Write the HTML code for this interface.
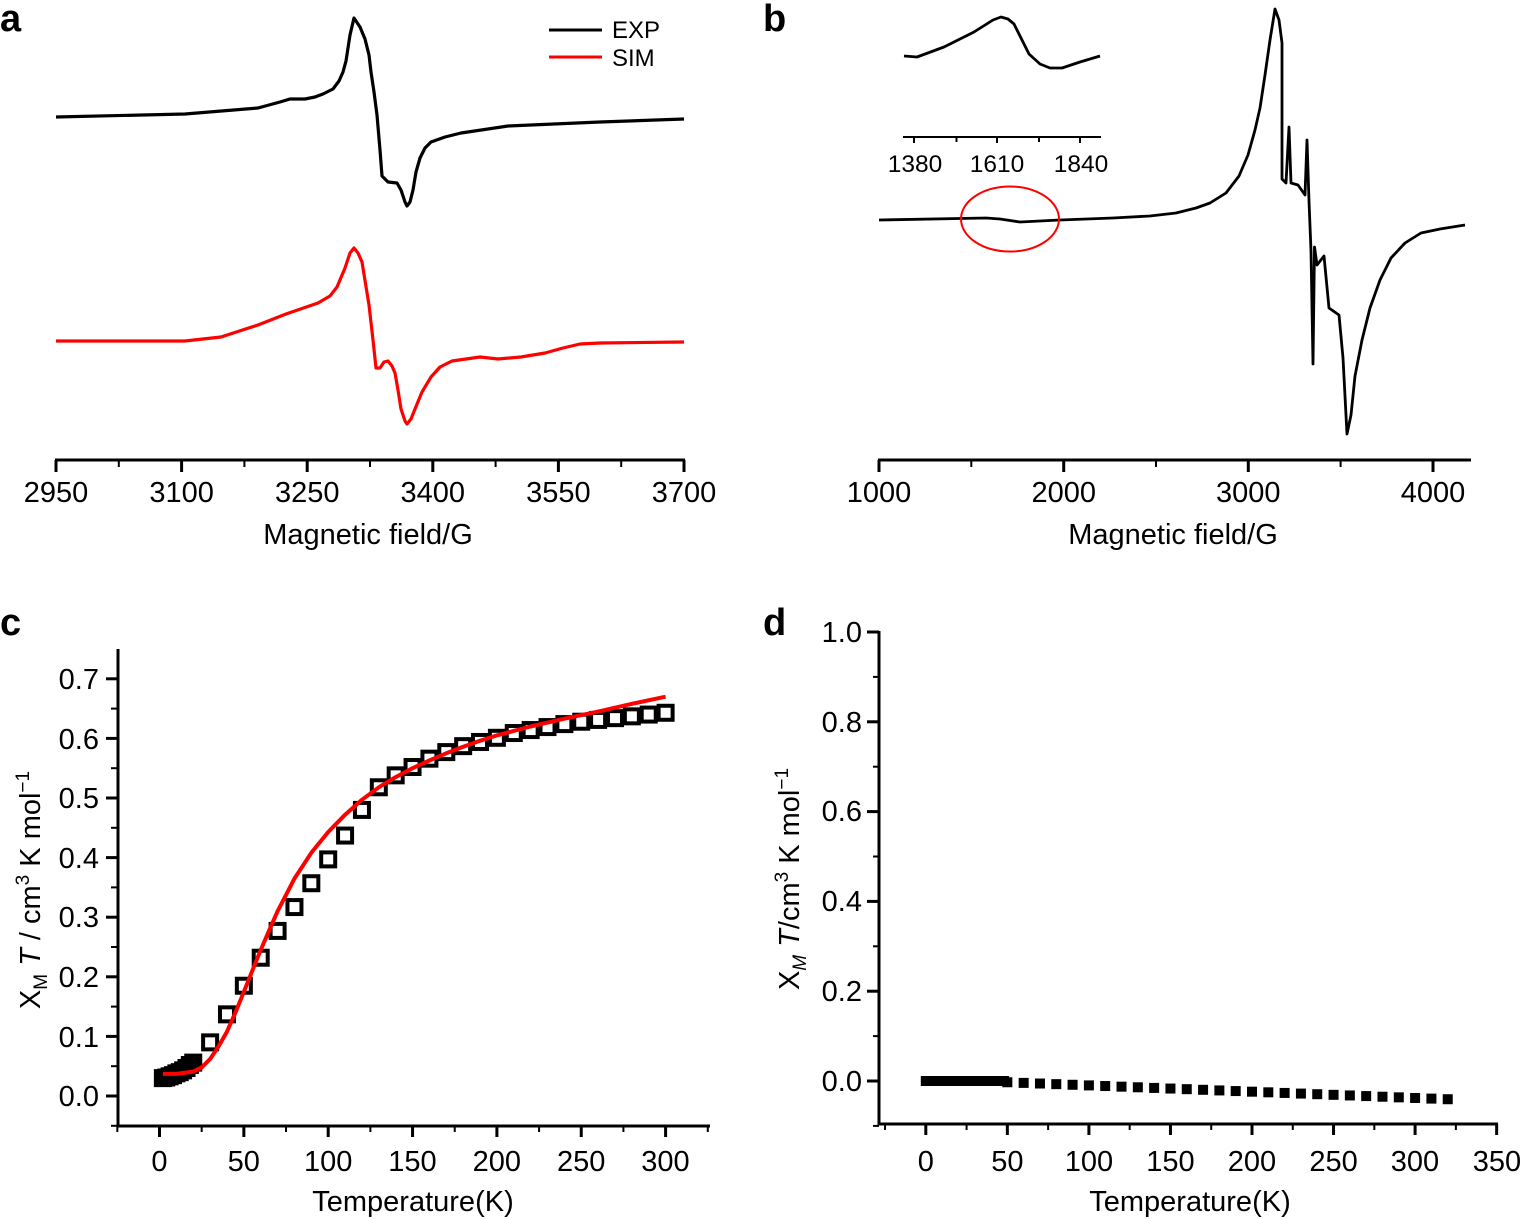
<!DOCTYPE html>
<html><head><meta charset="utf-8"><style>
html,body{margin:0;padding:0;background:#fff}
svg{display:block}
text{font-family:"Liberation Sans",Arial,sans-serif;fill:#000}
</style></head><body>
<svg id="s" width="1522" height="1219" viewBox="0 0 1522 1219" xmlns="http://www.w3.org/2000/svg">
<text x="0" y="31" font-size="38" font-weight="bold">a</text>
<text x="763" y="31" font-size="38" font-weight="bold">b</text>
<text x="0" y="635" font-size="38" font-weight="bold">c</text>
<text x="763" y="635" font-size="38" font-weight="bold">d</text>

<!-- ===== Panel a ===== -->
<g stroke="#000" stroke-width="3" fill="none">
<line x1="55" y1="460" x2="685" y2="460"/>
<path d="M56 460v12M181.6 460v12M307.2 460v12M432.8 460v12M558.4 460v12M684 460v12" />
<path d="M118.8 460v7M244.4 460v7M370 460v7M495.6 460v7M621.2 460v7" stroke-width="2"/>
</g>
<g font-size="29" text-anchor="middle">
<text x="56" y="502">2950</text><text x="181.6" y="502">3100</text><text x="307.2" y="502">3250</text>
<text x="432.8" y="502">3400</text><text x="558.4" y="502">3550</text><text x="684" y="502">3700</text>
<text x="368" y="544">Magnetic field/G</text>
</g>
<path fill="none" stroke="#000" stroke-width="3.2" stroke-linejoin="round" d="M56 117 L185 114 L258 108 L280 102 L290 99 L305 99 L315 97 L323 94 L333 89 L339 81 L343 72 L346 61 L350 35 L354 18 L360 27 L365 39 L369 55 L371 72 L374 92 L377 115 L380 150 L382 176 L388 182 L397 183 L401 190 L405 202 L407 206 L410 202 L413 190 L416 172 L420 158 L425 148 L431 142 L445 137 L461 133 L508 126 L600 122 L684 119"/>
<path fill="none" stroke="#f00" stroke-width="3.2" stroke-linejoin="round" d="M56 341 L185 341 L221 337 L258 325 L286 314 L318 303 L330 296 L337 287 L345 268 L350 253 L354 248 L358 253 L362 262 L369 305 L373 340 L376 368 L380 368 L384 362 L388 361 L392 366 L395 373 L398 390 L401 409 L405 421 L407 424 L411 419 L415 409 L422 392 L431 377 L440 367 L452 361 L480 357 L498 359 L521 357 L545 353 L563 348 L580 344 L600 343 L684 342"/>
<line x1="549" y1="30" x2="602" y2="30" stroke="#000" stroke-width="3"/>
<line x1="549" y1="57" x2="602" y2="57" stroke="#f00" stroke-width="3"/>
<text x="612" y="38" font-size="24">EXP</text>
<text x="612" y="66" font-size="24">SIM</text>

<!-- ===== Panel b ===== -->
<g stroke="#000" stroke-width="3" fill="none">
<line x1="878" y1="460" x2="1471" y2="460"/>
<path d="M879 460v12M1063.7 460v12M1248.3 460v12M1433 460v12"/>
<path d="M971.3 460v7M1156 460v7M1340.6 460v7" stroke-width="2"/>
</g>
<g font-size="29" text-anchor="middle">
<text x="879" y="502">1000</text><text x="1063.7" y="502">2000</text><text x="1248.3" y="502">3000</text><text x="1433" y="502">4000</text>
<text x="1173" y="544">Magnetic field/G</text>
</g>
<g stroke="#000" stroke-width="2" fill="none">
<line x1="903" y1="137" x2="1101" y2="137"/>
<path d="M914 137v6M956.5 137v5M997 137v6M1039 137v5M1080 137v6"/>
</g>
<g font-size="24.5" text-anchor="middle">
<text x="915" y="172">1380</text><text x="997" y="172">1610</text><text x="1081" y="172">1840</text>
</g>
<path fill="none" stroke="#000" stroke-width="2.8" stroke-linejoin="round" d="M904 56 L917 57 L944 47 L974 32 L993 20 L1001 17 L1008 19 L1014 24 L1022 40 L1029 54 L1040 64 L1050 68 L1062 68 L1080 62 L1100 56"/>
<path fill="none" stroke="#000" stroke-width="2.8" stroke-linejoin="round" d="M879 220 L986 218 L1000 219 L1020 222 L1060 220 L1113 218 L1150 216 L1176 213 L1196 208 L1210 203 L1226 193 L1239 176 L1248 155 L1255 130 L1260 108 L1265 75 L1270 40 L1275 9 L1279 20 L1282 43 L1282 179 L1286 183 L1289 127 L1291 183 L1298 185 L1305 195 L1307 140 L1309 201 L1311 251 L1313 364 L1314.5 247 L1317 265 L1324 256 L1329 308 L1339 315 L1343 358 L1347 434 L1351 415 L1355 376 L1362 340 L1370 308 L1380 280 L1391 258 L1405 243 L1421 233 L1440 229 L1465 225"/>
<ellipse cx="1010" cy="219" rx="49" ry="32.5" fill="none" stroke="#f00" stroke-width="2"/>

<!-- ===== Panel c ===== -->
<g stroke="#000" stroke-width="3" fill="none">
<line x1="118" y1="649" x2="118" y2="1127"/>
<line x1="117" y1="1126" x2="710" y2="1126"/>
</g>
<g id="cticks" stroke="#000" fill="none"></g>
<g font-size="29" text-anchor="end">
<text x="99" y="1106">0.0</text><text x="99" y="1047">0.1</text><text x="99" y="987">0.2</text><text x="99" y="927">0.3</text>
<text x="99" y="868">0.4</text><text x="99" y="808">0.5</text><text x="99" y="749">0.6</text><text x="99" y="689">0.7</text>
</g>
<g font-size="29" text-anchor="middle">
<text x="159.5" y="1171">0</text><text x="243.8" y="1171">50</text><text x="328.2" y="1171">100</text><text x="412.5" y="1171">150</text>
<text x="496.8" y="1171">200</text><text x="581.2" y="1171">250</text><text x="665.5" y="1171">300</text>
<text x="413" y="1211">Temperature(K)</text>
</g>
<text transform="translate(40,890) rotate(-90)" font-size="29" text-anchor="middle">X<tspan font-size="19" dy="7">M</tspan><tspan dy="-7" font-style="italic"> T</tspan> / cm<tspan font-size="19" dy="-11">3</tspan><tspan dy="11"> K mol</tspan><tspan font-size="19" dy="-11">−1</tspan></text>
<g id="cpts" fill="none" stroke="#000" stroke-width="4"></g>
<path id="cfit" fill="none" stroke="#f00" stroke-width="4" stroke-linejoin="round"/>

<!-- ===== Panel d ===== -->
<g stroke="#000" stroke-width="3" fill="none">
<line x1="879" y1="631" x2="879" y2="1125"/>
<line x1="878" y1="1124" x2="1498" y2="1124"/>
</g>
<g id="dticks" stroke="#000" fill="none"></g>
<g font-size="29" text-anchor="end">
<text x="862" y="1091">0.0</text><text x="862" y="1001">0.2</text><text x="862" y="911">0.4</text><text x="862" y="821">0.6</text>
<text x="862" y="732">0.8</text><text x="862" y="642">1.0</text>
</g>
<g font-size="29" text-anchor="middle">
<text x="925.8" y="1171">0</text><text x="1007.4" y="1171">50</text><text x="1089" y="1171">100</text><text x="1170.5" y="1171">150</text>
<text x="1252" y="1171">200</text><text x="1333.6" y="1171">250</text><text x="1415" y="1171">300</text><text x="1497" y="1171">350</text>
<text x="1190" y="1211">Temperature(K)</text>
</g>
<text transform="translate(799,879) rotate(-90)" font-size="29" text-anchor="middle">X<tspan font-size="19" dy="7" font-style="italic">M</tspan><tspan dy="-7" font-style="italic"> T</tspan>/cm<tspan font-size="19" dy="-11">3</tspan><tspan dy="11"> K mol</tspan><tspan font-size="19" dy="-11">−1</tspan></text>
<g id="dpts" fill="#000"></g>
</svg>
<script>
var NS="http://www.w3.org/2000/svg";
function el(p,t,a){var e=document.createElementNS(NS,t);for(var k in a)e.setAttribute(k,a[k]);p.appendChild(e);return e;}
var cx=function(T){return 159.5+T*1.687},cy=function(v){return 1096-v*596};
var ct=document.getElementById("cticks");
for(var i=0;i<=7;i++){el(ct,"line",{x1:106,x2:118,y1:cy(i/10),y2:cy(i/10),"stroke-width":3});}
for(var i=0;i<=7;i++){var y=cy(i/10+0.05);if(y>652)el(ct,"line",{x1:111,x2:118,y1:y,y2:y,"stroke-width":2});}
el(ct,"line",{x1:111,x2:118,y1:cy(-0.05),y2:cy(-0.05),"stroke-width":2});
for(var T=-25;T<=325;T+=25){var x=cx(T);el(ct,"line",{x1:x,x2:x,y1:1126,y2:T%50==0?1137:1132,"stroke-width":T%50==0?3:2});}
var cd=[[2,.03],[4,.031],[6,.033],[8,.035],[10,.038],[12,.04],[14,.043],[16,.047],[18,.052],[20,.056],[30,.09],[40,.137],[50,.185],[60,.232],[70,.277],[80,.317],[90,.357],[100,.397],[110,.437],[120,.48],[130,.518],[140,.538],[150,.552],[160,.566],[170,.577],[180,.587],[190,.594],[200,.601],[210,.609],[220,.614],[230,.619],[240,.624],[250,.628],[260,.631],[270,.634],[280,.637],[290,.64],[300,.643]];
var cp=document.getElementById("cpts");
cd.forEach(function(d){el(cp,"rect",{x:cx(d[0])-7,y:cy(d[1])-7,width:14,height:14});});
var cf=[[2,.037],[10,.037],[20,.041],[25,.048],[30,.062],[35,.083],[40,.108],[45,.14],[50,.175],[55,.21],[60,.245],[65,.278],[70,.31],[80,.365],[90,.408],[100,.443],[110,.472],[120,.497],[130,.518],[140,.535],[150,.55],[160,.563],[170,.575],[180,.586],[190,.596],[200,.605],[220,.62],[240,.633],[260,.645],[280,.658],[300,.67]];
document.getElementById("cfit").setAttribute("d","M"+cf.map(function(d){return cx(d[0]).toFixed(1)+" "+cy(d[1]).toFixed(1)}).join(" L"));
var dx=function(T){return 925.8+T*1.631},dy=function(v){return 1081-v*449};
var dt=document.getElementById("dticks");
for(var i=0;i<=5;i++){el(dt,"line",{x1:867,x2:879,y1:dy(i/5),y2:dy(i/5),"stroke-width":3});}
for(var i=-1;i<5;i++){var y=dy(i/5+0.1);el(dt,"line",{x1:873,x2:879,y1:y,y2:y,"stroke-width":2});}
for(var T=-25;T<=350;T+=25){var x=dx(T);el(dt,"line",{x1:x,x2:x,y1:1124,y2:T%50==0?1135:1130,"stroke-width":T%50==0?3:2});}
var dp=document.getElementById("dpts");
for(var T=0;T<50;T+=2){el(dp,"rect",{x:dx(T)-5,y:dy(0)-5,width:10,height:10});}
for(var T=50;T<=320;T+=10){var v=-0.0001*(T-30)*1.4;el(dp,"rect",{x:dx(T)-5,y:dy(v)-5,width:10,height:10});}
</script>
</body></html>
